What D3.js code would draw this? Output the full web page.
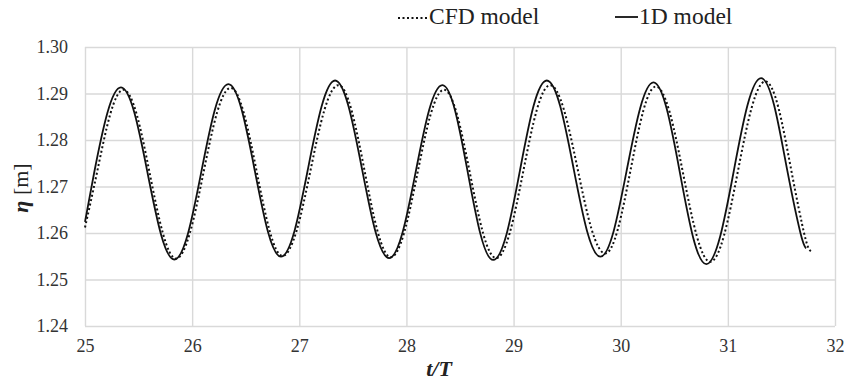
<!DOCTYPE html>
<html>
<head>
<meta charset="utf-8">
<script src="https://cdn.jsdelivr.net/npm/d3@7"></script>
<style>
  body { margin: 0; background: #fff; }
  .tick text { font-family: "Liberation Serif", "DejaVu Serif", serif !important; }
</style>
</head>
<body>
<div id="chart"><svg width="845" height="384"></svg></div>
<script>
// values
const xTicks = [25, 26, 27, 28, 29, 30, 31, 32];
const yTicks = [1.24, 1.25, 1.26, 1.27, 1.28, 1.29, 1.30];

const t1D = [25.000, 25.085, 25.210, 25.336, 25.4605, 25.585, 25.7095, 25.834,
  25.960, 26.086, 26.212, 26.338, 26.461, 26.584, 26.707, 26.830,
  26.956, 27.082, 27.208, 27.334, 27.460, 27.586, 27.712, 27.838,
  27.9625, 28.087, 28.2115, 28.336, 28.4545, 28.573, 28.6915, 28.810,
  28.935, 29.060, 29.185, 29.310, 29.435, 29.560, 29.685, 29.810,
  29.934, 30.058, 30.182, 30.306, 30.4295, 30.553, 30.6765, 30.800,
  30.9275, 31.055, 31.1825, 31.310, 31.4325, 31.555, 31.6775, 31.730];
const eta1D = [1.2624, 1.2729, 1.2859, 1.2913, 1.2859, 1.2728, 1.2597, 1.2543,
  1.2598, 1.2732, 1.2865, 1.2920, 1.2866, 1.2735, 1.2603, 1.2549,
  1.2605, 1.2739, 1.2872, 1.2928, 1.2872, 1.2737, 1.2602, 1.2546,
  1.2600, 1.2732, 1.2864, 1.2918, 1.2863, 1.2730, 1.2597, 1.2542,
  1.2598, 1.2735, 1.2872, 1.2928, 1.2873, 1.2739, 1.2605, 1.2549,
  1.2604, 1.2737, 1.2869, 1.2924, 1.2867, 1.2729, 1.2590, 1.2533,
  1.2592, 1.2733, 1.2874, 1.2933, 1.2874, 1.2734, 1.2600, 1.2567];

const tCFD = [25.000, 25.110, 25.235, 25.360, 25.4825, 25.605, 25.7275, 25.850,
  25.9775, 26.105, 26.2325, 26.360, 26.481, 26.6025, 26.724, 26.845,
  26.975, 27.105, 27.235, 27.365, 27.4875, 27.610, 27.7325, 27.855,
  27.979, 28.1025, 28.226, 28.350, 28.472, 28.594, 28.716, 28.838,
  28.964, 29.090, 29.216, 29.342, 29.470, 29.5985, 29.727, 29.855,
  29.974, 30.0925, 30.211, 30.330, 30.4565, 30.583, 30.7095, 30.836,
  30.9645, 31.093, 31.2215, 31.350, 31.4725, 31.595, 31.7175, 31.775];
const etaCFD = [1.2612, 1.2728, 1.2855, 1.2908, 1.2855, 1.2727, 1.2599, 1.2545,
  1.2599, 1.2729, 1.2859, 1.2912, 1.2859, 1.2732, 1.2604, 1.2551,
  1.2605, 1.2735, 1.2865, 1.2918, 1.2864, 1.2733, 1.2602, 1.2548,
  1.2601, 1.2728, 1.2855, 1.2908, 1.2855, 1.2727, 1.2599, 1.2546,
  1.2600, 1.2732, 1.2864, 1.2918, 1.2865, 1.2737, 1.2609, 1.2556,
  1.2609, 1.2736, 1.2863, 1.2915, 1.2860, 1.2727, 1.2594, 1.2538,
  1.2595, 1.2732, 1.2869, 1.2926, 1.2869, 1.2731, 1.2594, 1.2561];

const serif = "Liberation Serif";
const svg = d3.select("#chart svg").attr("font-family", serif);
const margin = {left: 85, right: 10, top: 47, bottom: 58};
const width = 845, height = 384;

const x = d3.scaleLinear().domain([25, 32]).range([margin.left, width - margin.right]);
const y = d3.scaleLinear().domain([1.24, 1.30]).range([height - margin.bottom, margin.top]);

const gridColor = "#d9d9d9";

// horizontal grid
svg.append("g")
  .attr("transform", `translate(${margin.left},0)`)
  .call(d3.axisLeft(y).tickValues(yTicks).tickSize(-(x.range()[1] - x.range()[0])).tickFormat(d3.format(".2f")).tickPadding(17))
  .attr("font-family", serif).attr("font-size", 18)
  .call(g => g.select(".domain").remove())
  .call(g => g.selectAll("line").attr("stroke", gridColor).attr("stroke-width", 1.4))
  .call(g => g.selectAll("text").attr("fill", "#333"));

// vertical grid
svg.append("g")
  .attr("transform", `translate(0,${y(1.24)})`)
  .call(d3.axisBottom(x).tickValues(xTicks).tickSize(-(y.range()[0] - y.range()[1])).tickFormat(d3.format("d")).tickPadding(13))
  .attr("font-family", serif).attr("font-size", 18)
  .call(g => g.select(".domain").remove())
  .call(g => g.selectAll("line").attr("stroke", gridColor).attr("stroke-width", 1.4))
  .call(g => g.selectAll("text").attr("fill", "#333"));

const line = (ts, vs) => d3.line()
  .x((d, i) => x(ts[i]))
  .y(d => y(d))
  .curve(d3.curveNatural)(vs);

svg.append("path")
  .attr("d", line(tCFD, etaCFD))
  .attr("fill", "none")
  .attr("stroke", "#111")
  .attr("stroke-width", 2)
  .attr("stroke-dasharray", "2,2.5");

svg.append("path")
  .attr("d", line(t1D, eta1D))
  .attr("fill", "none")
  .attr("stroke", "#111")
  .attr("stroke-width", 1.8);

// axis titles
svg.append("text")
  .attr("x", 439).attr("y", 376)
  .attr("text-anchor", "middle")
  .attr("font-size", 22).attr("font-weight", "bold").attr("font-style", "italic")
  .attr("fill", "#222")
  .text("t/T");

const yt = svg.append("text")
  .attr("transform", "translate(28,188) rotate(-90)")
  .attr("text-anchor", "middle")
  .attr("fill", "#222")
  .attr("font-size", 22);
yt.append("tspan").attr("font-weight", "bold").attr("font-style", "italic").text("η");
yt.append("tspan").text(" [m]");

// legend
const legend = svg.append("g").attr("fill", "#222");
legend.append("line")
  .attr("x1", 398).attr("x2", 428).attr("y1", 18).attr("y2", 18)
  .attr("stroke", "#111").attr("stroke-width", 2).attr("stroke-dasharray", "2,2.5");
legend.append("text").attr("x", 429).attr("y", 24).attr("font-size", 23.5).text("CFD model");
legend.append("line")
  .attr("x1", 615).attr("x2", 638).attr("y1", 17).attr("y2", 17)
  .attr("stroke", "#111").attr("stroke-width", 1.8);
legend.append("text").attr("x", 639).attr("y", 24).attr("font-size", 23.5).text("1D model");
</script>
</body>
</html>
